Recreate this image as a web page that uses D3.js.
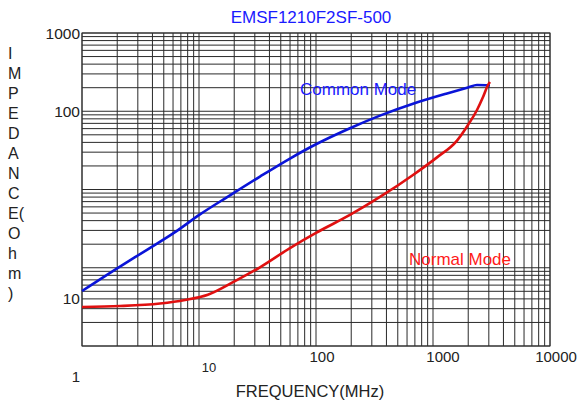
<!DOCTYPE html>
<html><head><meta charset="utf-8">
<script src="https://cdn.jsdelivr.net/npm/d3@7"></script>
<style>
html,body{margin:0;padding:0;background:#fff;}
svg{display:block;font-family:"Liberation Sans",Arial,sans-serif;}
</style></head>
<body>
<svg id="c" width="581" height="408"></svg>
<script>
// ---- data ----
const title = "EMSF1210F2SF-500";
const xTickValues = [1, 10, 100, 1000, 10000];
const xTickLabels = ["1", "10", "100", "1000", "10000"];
const yTickValues = [1000, 100, 10];
const yTickLabels = ["1000", "100", "10"];
const yAxisTitle = ["I","M","P","E","D","A","N","C","E(","O","h","m",")"];
const xAxisTitle = "FREQUENCY(MHz)";
const seriesNames = ["Common Mode", "Normal Mode"];
// Common mode impedance (Ohm) vs frequency (MHz)
const freqCommon = [1, 2.03, 3.59, 6.24, 10.2, 18.4, 33.2, 59.9, 100, 195, 352, 675, 1318, 1991, 2377, 3070];
const zCommon    = [10.9, 14.5, 18.1, 22.5, 28.0, 35.4, 44.6, 55.7, 66.4, 80.9, 94.5, 124, 168, 200, 215, 212];
// Normal mode impedance (Ohm) vs frequency (MHz)
const freqNormal = [1, 2.11, 4.64, 7.59, 11.9, 20.3, 33.2, 59.9, 100, 195, 352, 675, 1082, 1604, 1991, 2377, 2676, 2951, 3070];
const zNormal    = [8.95, 9.06, 9.35, 9.76, 10.4, 12.3, 14.6, 18.5, 22.3, 27.8, 34.7, 45.5, 56.5, 69.5, 84.2, 103, 151, 215, 235];

// ---- layout ----
const L = 82, R = 550, T = 33, B = 346;
const svg = d3.select("#c");

const x = d3.scaleLog().domain([1, 10000]).range([L, R]);
// printed grid: 4 log decades
const yGrid = d3.scaleLog().domain([0.1, 1000]).range([B, T]);
// value scale matching the printed labels
const y = d3.scaleLog().domain([10, 100, 1000]).range([298, 111, T]);

const grid = svg.append("g").attr("stroke", "#2a2a2a").attr("stroke-width", 1).attr("fill", "none");
grid.selectAll("line.v").data(x.ticks()).join("line")
  .attr("x1", d => x(d)).attr("x2", d => x(d)).attr("y1", T).attr("y2", B);
grid.selectAll("line.h").data(yGrid.ticks()).join("line")
  .attr("y1", d => yGrid(d)).attr("y2", d => yGrid(d)).attr("x1", L).attr("x2", R);
grid.append("rect").attr("x", L).attr("y", T).attr("width", R - L).attr("height", B - T)
  .attr("stroke", "#333");

// curves
const line = d3.line().curve(d3.curveMonotoneX);
const ptsC = freqCommon.map((f, i) => [x(f), y(zCommon[i])]);
const ptsN = freqNormal.map((f, i) => [x(f), y(zNormal[i])]);
svg.append("path").attr("d", line(ptsC)).attr("fill", "none")
  .attr("stroke", "#0a14d8").attr("stroke-width", 2.6).attr("stroke-linejoin", "round");
svg.append("path").attr("d", line(ptsN)).attr("fill", "none")
  .attr("stroke", "#e01010").attr("stroke-width", 2.6).attr("stroke-linejoin", "round");

// title
svg.append("text").attr("x", 311).attr("y", 23).attr("text-anchor", "middle")
  .attr("font-size", 17).attr("fill", "#1a1aff").text(title);

// series labels
svg.append("text").attr("x", 300).attr("y", 95).attr("font-size", 17)
  .attr("fill", "#1a1aff").text(seriesNames[0]);
svg.append("text").attr("x", 409).attr("y", 265).attr("font-size", 17)
  .attr("fill", "#ff1a1a").text(seriesNames[1]);

// y tick labels
svg.selectAll("text.yt").data(yTickValues).join("text")
  .attr("x", 80).attr("y", d => y(d) + 6).attr("text-anchor", "end")
  .attr("font-size", 15.5).attr("fill", "#222").text((d, i) => yTickLabels[i]);

// x tick labels (layout nudges only)
const xNudge = [[-6, 36], [10, 26], [6, 16], [10, 16], [6, 16]];
const xSize = [15, 13, 15, 15, 15];
svg.selectAll("text.xt").data(xTickValues).join("text")
  .attr("x", (d, i) => x(d) + xNudge[i][0]).attr("y", (d, i) => B + xNudge[i][1])
  .attr("text-anchor", "middle").attr("font-size", (d, i) => xSize[i]).attr("fill", "#222")
  .text((d, i) => xTickLabels[i]);

// axis titles
svg.append("text").attr("x", 310).attr("y", 397).attr("text-anchor", "middle")
  .attr("font-size", 16.5).attr("fill", "#222").text(xAxisTitle);
svg.selectAll("text.ya").data(yAxisTitle).join("text")
  .attr("x", 8).attr("y", (d, i) => 58.5 + i * 20)
  .attr("font-size", 16).attr("fill", "#222").text(d => d);
</script>
</body></html>
